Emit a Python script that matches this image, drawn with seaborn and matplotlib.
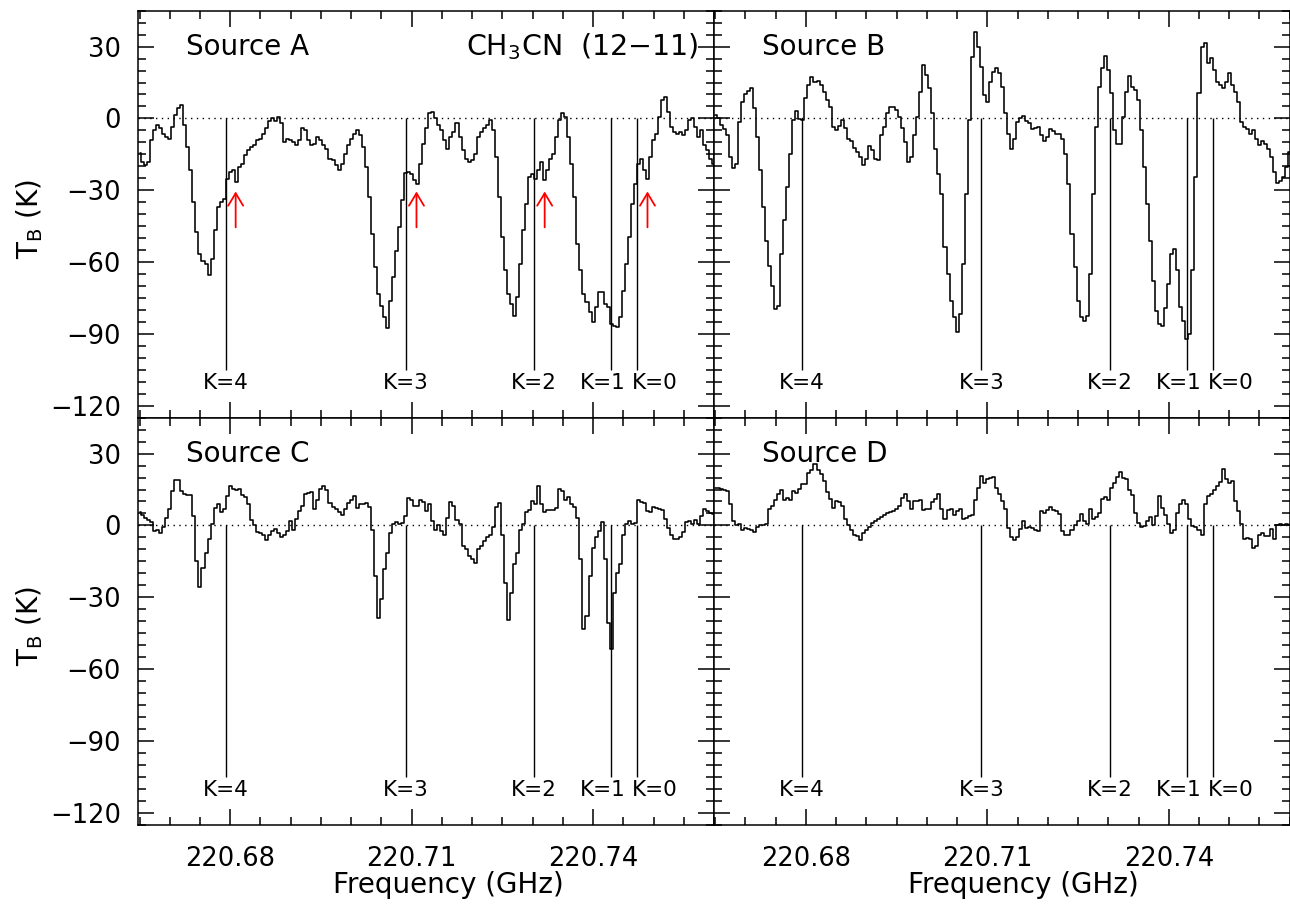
import numpy as np
import pandas as pd
import matplotlib
matplotlib.use("Agg")
import matplotlib.pyplot as plt
from matplotlib.ticker import FixedLocator, MultipleLocator, FuncFormatter
import seaborn as sns

# ---------------------------------------------------------------- data
# spectral channel grid (GHz)
CHAN0 = 220.665
CHAN_WIDTH = 0.0005
N_CHAN = 191

SOURCES = ["Source A", "Source B", "Source C", "Source D"]
LINE_NAME = "CH$_3$CN  (12\u221211)"

K_LABELS = ["K=4", "K=3", "K=2", "K=1", "K=0"]
K_FREQS = [220.67929, 220.70902, 220.73027, 220.74302, 220.74726]
ARROW_FREQS = [220.6809, 220.7108, 220.7320, 220.7490]

XTICKS = [220.68, 220.71, 220.74]
YTICKS = [-120, -90, -60, -30, 0, 30]

# brightness temperature (K) per channel
T_A = [
    -14.4, -18.2, -19.6, -18.2, -9.1, -4.9, -2.8, -3.8, -6.3, -7.7,
    -8.4, -3.5, 1.4, 4.2, 5.6, -2.8, -11.9, -21.6, -34.9, -47.5,
    -56.6, -59.4, -60.8, -65.6, -58.7, -46.8, -37.0, -34.9, -33.5, -25.1,
    -22.3, -21.6, -26.5, -20.3, -18.9, -15.4, -13.3, -11.9, -11.2, -9.1,
    -8.4, -6.3, -4.2, -1.0, 0.0, -1.0, 0.4, -2.1, -9.8, -8.4,
    -9.1, -9.8, -11.2, -9.1, -4.2, -4.9, -9.1, -11.2, -10.5, -7.7,
    -9.1, -11.2, -12.6, -16.8, -17.5, -19.6, -21.6, -18.9, -14.7, -11.2,
    -8.4, -6.3, -4.9, -7.0, -11.9, -20.3, -32.8, -48.2, -62.2, -73.3,
    -78.2, -83.1, -87.7, -76.1, -66.3, -55.2, -45.4, -34.2, -22.8, -22.3,
    -23.3, -25.8, -27.5, -18.9, -10.5, -4.2, 2.1, 2.8, 0.0, -2.8,
    -4.9, -9.1, -12.6, -7.7, -5.6, -2.1, -7.7, -13.3, -16.8, -18.2,
    -17.5, -14.7, -7.7, -5.6, -4.2, -2.8, -0.7, -4.9, -16.1, -32.8,
    -49.6, -63.5, -73.3, -77.5, -82.4, -74.7, -60.8, -46.8, -35.6, -24.4,
    -23.0, -25.1, -21.6, -18.2, -25.8, -21.6, -16.8, -14.7, -7.7, -0.7,
    2.1, 0.7, -7.7, -18.9, -32.8, -52.4, -63.5, -73.3, -76.8, -81.0,
    -85.2, -78.9, -72.6, -72.6, -77.5, -78.9, -85.9, -86.6, -87.3, -83.1,
    -71.9, -60.8, -49.6, -35.6, -27.2, -18.9, -16.8, -21.6, -25.1, -16.1,
    -9.1, -6.3, 0.7, 7.7, 9.1, 2.8, -3.5, -5.6, -6.3, -5.6,
    -7.0, -4.9, -0.7, 0.0, -3.5, -7.7, -4.9, -11.2, -13.3, -16.8, -18.9,
]
T_B = [
    1.4, 0.0, -2.8, -4.6, -7.0, -16.1, -20.7, -18.9, -1.4, 7.0,
    10.2, 11.6, 12.6, 4.2, -7.7, -21.6, -37.0, -51.0, -61.5, -69.8,
    -79.6, -78.2, -56.6, -42.6, -28.6, -14.7, -0.7, 3.2, -0.4, -0.7,
    8.4, 14.0, 17.2, 15.4, 15.8, 14.0, 11.2, 7.7, 4.9, -3.5,
    -4.9, -3.2, -0.7, -3.8, -8.4, -9.4, -12.2, -14.0, -16.1, -19.6,
    -16.8, -11.6, -13.3, -16.8, -17.5, -7.0, -3.5, 2.1, 4.6, 4.6,
    3.5, 0.4, -4.2, -9.8, -18.2, -16.1, -7.0, 0.7, 11.2, 22.3,
    18.2, 12.6, 2.1, -12.6, -23.0, -31.4, -53.8, -64.9, -76.1, -83.1,
    -89.4, -81.7, -60.8, -31.4, -0.7, 25.8, 36.3, 30.0, 21.6, 9.8,
    7.0, 15.4, 19.6, 21.0, 18.9, 13.3, 2.1, -6.3, -12.6, -8.4,
    -1.4, 0.0, 1.0, -1.1, -2.1, -4.6, -4.2, -3.5, -7.0, -9.4,
    -7.7, -4.6, -5.2, -6.6, -6.6, -8.4, -14.7, -27.2, -48.2, -62.2,
    -76.1, -83.1, -84.5, -82.4, -64.9, -31.4, -3.5, 13.3, 21.0, 26.1,
    20.3, 10.5, -4.9, -10.5, -10.5, 0.7, 11.2, 17.7, 13.3, 11.9,
    7.7, -4.9, -20.3, -35.6, -51.0, -67.7, -80.3, -85.9, -86.6, -79.2,
    -69.1, -56.6, -54.5, -63.5, -78.9, -84.5, -92.2, -90.1, -63.5, -24.4,
    10.5, 30.0, 31.4, 23.0, 25.1, 20.3, 15.4, 14.0, 12.6, 15.4,
    18.9, 14.0, 11.2, 7.0, -1.4, -3.5, -4.6, -6.3, -4.9, -8.4,
    -11.2, -9.4, -10.8, -12.6, -16.1, -22.3, -27.0, -26.1, -24.4, -20.3, -14.0,
]
T_C = [
    5.6, 4.2, 3.2, 2.2, 1.4, -2.4, -1.9, -3.1, -0.7, 3.2,
    6.7, 14.3, 18.9, 18.9, 14.3, 13.3, 12.9, 12.9, 3.9, -14.9,
    -25.6, -17.6, -11.4, -5.8, 0.4, 7.4, 8.8, 5.6, 6.7, 12.2,
    16.4, 15.3, 14.7, 15.3, 12.9, 11.9, 8.8, 2.2, 0.0, -2.8,
    -3.1, -4.2, -6.1, -4.2, -2.5, -1.4, -3.1, -4.7, -3.8, -2.4,
    1.8, -1.9, 2.8, 6.0, 8.3, 13.3, 13.6, 13.9, 6.9, 10.8,
    15.3, 16.4, 14.7, 9.4, 7.8, 6.7, 5.6, 4.2, 6.9, 9.2,
    10.6, 12.2, 7.4, 8.8, 8.8, 9.4, 7.8, -1.7, -21.1, -38.5,
    -30.8, -18.3, -11.4, -3.1, 0.8, 1.4, 0.8, 1.1, 3.9, 11.5,
    10.6, 8.1, 8.1, 10.8, 9.7, 6.0, 8.8, 1.8, -1.7, 0.0,
    -2.4, -4.2, 3.2, 9.7, 8.1, 2.2, 0.4, -8.6, -10.0, -12.8,
    -13.9, -15.8, -10.0, -8.6, -6.5, -4.7, -4.2, -0.6, 7.8, 9.2,
    -3.8, -23.9, -39.4, -28.1, -16.3, -11.7, -1.7, 0.4, 5.6, 6.4,
    10.1, 8.8, 16.4, 8.8, 5.6, 6.4, 6.4, 6.4, 7.4, 15.3,
    14.3, 10.8, 11.9, 8.8, 7.8, 3.2, -14.2, -43.3, -37.8, -21.1,
    -9.3, -4.7, -2.4, 1.4, -14.2, -40.6, -51.7, -28.1, -20.0, -16.3,
    -3.8, 0.8, 1.8, 0.4, 1.1, 10.8, 9.7, 9.2, 6.0, 5.6,
    7.8, 7.4, 6.7, 6.4, 2.5, -1.0, -3.8, -5.6, -5.8, -4.7,
    -2.8, 1.4, 1.8, 0.8, 2.2, 0.8, 3.9, 6.7, 6.0, 5.0, 4.6,
]
T_D = [
    15.7, 15.7, 15.3, 14.7, 14.3, 8.8, 1.8, 0.0, 0.4, -1.7,
    -1.0, -1.4, -1.9, -2.8, -0.6, 0.0, 0.0, 0.8, 6.7, 8.3,
    10.8, 13.3, 14.7, 10.6, 11.5, 10.8, 14.3, 13.6, 15.3, 17.1,
    17.5, 21.9, 23.1, 25.8, 23.1, 21.3, 18.5, 13.9, 11.1, 7.4,
    10.1, 9.7, 8.1, 2.5, 0.0, -1.9, -3.8, -4.4, -6.1, -3.1,
    -1.9, -0.6, 1.1, 1.8, 2.5, 3.6, 4.4, 5.0, 5.6, 6.0,
    6.7, 8.1, 11.5, 13.3, 10.1, 6.9, 10.1, 10.4, 10.8, 6.4,
    6.7, 6.7, 9.7, 11.1, 13.3, 6.7, 2.5, 6.4, 6.7, 4.2,
    6.0, 6.7, 2.8, 3.2, 3.9, 4.2, 10.8, 15.7, 20.6, 17.8,
    19.2, 19.9, 20.3, 15.7, 13.3, 10.1, 6.7, -1.0, -4.7, -6.1,
    -4.7, -1.4, 1.8, -1.0, -0.6, -1.0, -1.7, -2.4, 6.0, 5.0,
    6.4, 7.8, 6.4, 6.0, 4.6, -2.4, -3.8, -4.2, -1.9, 0.0,
    1.8, 4.6, 1.8, 0.8, 6.7, 2.5, 3.6, 5.0, 11.1, 11.9,
    10.8, 15.7, 17.8, 20.3, 22.5, 19.9, 19.2, 15.0, 12.9, 5.0,
    1.1, -0.6, -0.3, 1.7, 3.6, 0.0, 3.9, 12.2, 7.4, 4.2,
    0.4, -3.3, -1.7, 5.3, 8.8, 10.6, 8.8, 2.5, -0.3, -0.6,
    -1.7, -3.8, 8.8, 12.5, 13.3, 14.7, 16.4, 18.1, 23.6, 19.2,
    17.8, 18.5, 10.1, 6.0, 0.4, -5.6, -5.1, -5.8, -9.3, -8.6,
    -4.2, -3.1, -4.4, -4.4, -1.4, -5.8, 0.3, 0.4, 0.0, 0.4, 0.0,
]

# ---------------------------------------------------------------- style
sns.set_theme(style="ticks")
plt.rcParams["font.family"] = ["DejaVu Sans"]
plt.rcParams["axes.unicode_minus"] = True
plt.rcParams["mathtext.fontset"] = "dejavusans"
plt.rcParams["text.color"] = "black"
plt.rcParams["axes.labelcolor"] = "black"
plt.rcParams["xtick.color"] = "black"
plt.rcParams["ytick.color"] = "black"

freq = CHAN0 + CHAN_WIDTH * np.arange(N_CHAN)
spectra = pd.DataFrame({"freq": freq, SOURCES[0]: T_A, SOURCES[1]: T_B,
                        SOURCES[2]: T_C, SOURCES[3]: T_D})

W, H = 1290, 908
fig = plt.figure(figsize=(W / 100, H / 100), dpi=100)
fig.patch.set_facecolor("white")

LEFT, TOP = 138.3, 10.7
PW, PH = 575.7, 407.0
XLIM = (220.6648, 220.7600)
YLIM = (-125, 45)
K_LINE_BOTTOM = -105
K_LABEL_Y = -110.5
K_LABEL_SHIFT = {"K=1": -6.0, "K=0": 13.0}   # points, avoids overlap

minus = "\u2212"


def ytick_fmt(v, _):
    return f"{v:.0f}".replace("-", minus)


for idx, src in enumerate(SOURCES):
    r, c = divmod(idx, 2)
    x0 = LEFT + c * PW
    y0 = TOP + r * PH
    ax = fig.add_axes([x0 / W, 1 - (y0 + PH) / H, PW / W, PH / H])
    ax.set_facecolor("white")

    sns.lineplot(data=spectra, x="freq", y=src, ax=ax, color="black",
                 linewidth=1.15, drawstyle="steps-mid", estimator=None,
                 legend=False)

    ax.axhline(0, color="black", lw=1.0, linestyle=(0, (1, 3.2)))
    ax.vlines(K_FREQS, K_LINE_BOTTOM, 0, color="black", lw=1.0)
    for lab, kf in zip(K_LABELS, K_FREQS):
        ax.annotate(lab, xy=(kf, K_LABEL_Y), xytext=(K_LABEL_SHIFT.get(lab, 0.0), 0),
                    textcoords="offset points", ha="center", va="center",
                    fontsize=15.5, color="black")

    ax.text(0.083, 0.912, src, transform=ax.transAxes, fontsize=20,
            ha="left", va="center", color="black")

    if idx == 0:
        ax.text(0.974, 0.912, LINE_NAME, transform=ax.transAxes, fontsize=20.5,
                ha="right", va="center", color="black")
        for af in ARROW_FREQS:
            ax.annotate("", xy=(af, -30.5), xytext=(af, -45.5),
                        arrowprops=dict(arrowstyle="->,head_length=0.45,head_width=0.27",
                                        color="red", lw=1.3, shrinkA=0, shrinkB=0,
                                        mutation_scale=20))

    ax.set_xlim(*XLIM)
    ax.set_ylim(*YLIM)
    ax.xaxis.set_major_locator(FixedLocator(XTICKS))
    ax.xaxis.set_minor_locator(MultipleLocator(0.005))
    ax.yaxis.set_major_locator(FixedLocator(YTICKS))
    ax.yaxis.set_minor_locator(MultipleLocator(5))
    ax.xaxis.set_major_formatter(FuncFormatter(lambda v, _: f"{v:.2f}"))
    ax.yaxis.set_major_formatter(FuncFormatter(ytick_fmt))
    ax.tick_params(which="both", direction="in", top=True, right=True,
                   width=1.1, color="black", labelsize=18.5, labelcolor="black")
    ax.tick_params(which="major", length=11.8)
    ax.tick_params(which="minor", length=6.0)
    ax.tick_params(axis="x", which="major", pad=15)
    ax.tick_params(axis="y", which="major", pad=12.5)
    ax.tick_params(axis="x", labelbottom=(r == 1))
    ax.tick_params(axis="y", labelleft=(c == 0))
    ax.set_xlabel("")
    ax.set_ylabel("")
    for sp in ax.spines.values():
        sp.set_visible(True)
        sp.set_linewidth(1.1)
        sp.set_color("black")

    if c == 0:
        fig.text(30 / W, 1 - (y0 + PH / 2 + 5) / H, "T$_{\\rm B}$ (K)",
                 rotation=90, fontsize=20, ha="center", va="center", color="black")
    if r == 1:
        fig.text((x0 + PW / 2 + 22) / W, 1 - 885 / H, "Frequency (GHz)",
                 fontsize=20, ha="center", va="center", color="black")

fig.savefig("out.png", dpi=100, facecolor="white")
